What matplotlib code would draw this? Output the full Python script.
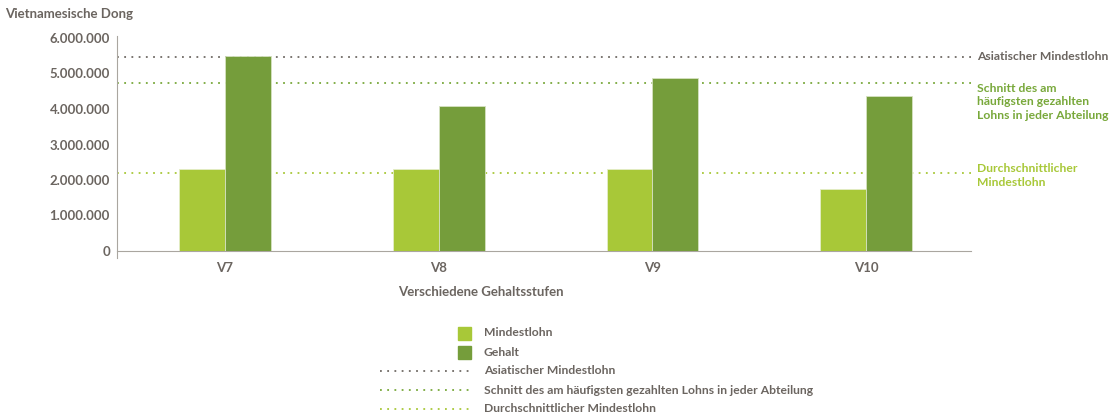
import numpy as np
import matplotlib
matplotlib.use('Agg')
import matplotlib.pyplot as plt
from matplotlib.lines import Line2D
from matplotlib.patches import Rectangle
from matplotlib.ticker import FuncFormatter

# data
stufen = ['V7', 'V8', 'V9', 'V10']
mindestlohn = [2310000, 2320000, 2300000, 1740000]
gehalt = [5490000, 4080000, 4880000, 4360000]
asiatischer_mindestlohn = 5470000
schnitt_haeufigster_lohn = 4720000
durchschnitt_mindestlohn = 2190000

LIGHT = '#a8c838'
DARK = '#759d3b'
GREY = '#6b6560'
DOTGREY = '#6f6a65'
SCHNITT = '#78a83a'
SPINE = '#aaa6a0'
FS = 9.5    # axis text
FS2 = 8.7   # legend and line labels

plt.rcParams['font.family'] = ['Lato', 'DejaVu Sans']
plt.rcParams['font.weight'] = 'bold'

fig = plt.figure(figsize=(11.1, 4.16), dpi=100)
W, H = 1110.0, 416.0
ax = fig.add_axes([117 / W, 1 - 251 / H, (971 - 117) / W, (251 - 38) / H])

x = np.arange(len(stufen))
w = 0.215
ax.bar(x - w / 2, mindestlohn, w, color=LIGHT, edgecolor='#e4edc8', linewidth=0.6, zorder=3)
ax.bar(x + w / 2, gehalt, w, color=DARK, edgecolor='#d6e2c2', linewidth=0.6, zorder=3)

dots = (0, (1, 3))
ax.axhline(asiatischer_mindestlohn, color=DOTGREY, lw=1.3, ls=dots, zorder=1)
ax.axhline(schnitt_haeufigster_lohn, color=SCHNITT, lw=1.3, ls=dots, zorder=1)
ax.axhline(durchschnitt_mindestlohn, color=LIGHT, lw=1.3, ls=dots, zorder=1)

ax.set_xlim(-0.505, 3.49)
ax.set_ylim(0, 6000000)
ax.set_yticks(np.arange(0, 6000001, 1000000))
ax.yaxis.set_major_formatter(FuncFormatter(lambda v, p: '{:,.0f}'.format(v).replace(',', '.')))
ax.set_xticks(x)
ax.set_xticklabels(stufen)
ax.tick_params(axis='both', length=0, labelsize=FS, labelcolor=GREY)
ax.tick_params(axis='y', pad=5)
ax.tick_params(axis='x', pad=8)

for s in ['top', 'right']:
    ax.spines[s].set_visible(False)
ax.spines['left'].set_color(SPINE)
ax.spines['bottom'].set_color(SPINE)
ax.spines['left'].set_bounds(-200000, 6060000)

# labels at the right end of the lines
tr = ax.get_yaxis_transform()
ax.text(1.007, asiatischer_mindestlohn, 'Asiatischer Mindestlohn', transform=tr,
        ha='left', va='center', fontsize=FS2, color=GREY, clip_on=False)
ax.text(1.007, schnitt_haeufigster_lohn + 20000, 'Schnitt des am\nhäufigsten gezahlten\nLohns in jeder Abteilung',
        transform=tr, ha='left', va='top', fontsize=FS2, color=SCHNITT, linespacing=1.3, clip_on=False)
ax.text(1.007, durchschnitt_mindestlohn + 280000, 'Durchschnittlicher\nMindestlohn', transform=tr,
        ha='left', va='top', fontsize=FS2, color=LIGHT, linespacing=1.3, clip_on=False)

fig.text(5 / W, 1 - 14 / H, 'Vietnamesische Dong', ha='left', va='center', fontsize=FS, color=GREY)
fig.text(481 / W, 1 - 292 / H, 'Verschiedene Gehaltsstufen', ha='center', va='center', fontsize=FS, color=GREY)

# legend drawn by hand
rows = [333, 352, 371, 390, 409]
labels = ['Mindestlohn', 'Gehalt', 'Asiatischer Mindestlohn',
          'Schnitt des am häufigsten gezahlten Lohns in jeder Abteilung', 'Durchschnittlicher Mindestlohn']
for yy, col in zip(rows[:2], [LIGHT, DARK]):
    fig.add_artist(Rectangle((458 / W, 1 - (yy + 6.5) / H), 13 / W, 13 / H,
                             transform=fig.transFigure, color=col))
for yy, col in zip(rows[2:], [DOTGREY, SCHNITT, LIGHT]):
    fig.add_artist(Line2D([380 / W, 472 / W], [1 - yy / H, 1 - yy / H],
                          transform=fig.transFigure, color=col, lw=1.3, ls=dots))
for yy, lab in zip(rows, labels):
    fig.text(484 / W, 1 - yy / H, lab, ha='left', va='center', fontsize=FS2, color=GREY)

fig.savefig('out.png', dpi=100)
